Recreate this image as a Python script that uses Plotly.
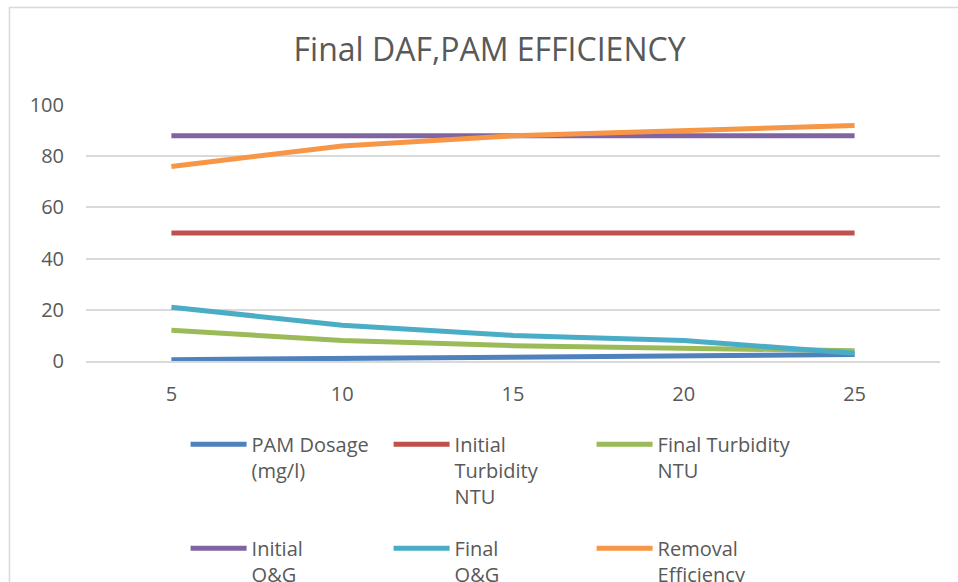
import plotly.graph_objects as go

# ---- data ----
categories = ["5", "10", "15", "20", "25"]
pam_dosage = [0.5, 1.0, 1.5, 2.0, 2.5]
initial_turbidity = [50, 50, 50, 50, 50]
final_turbidity = [12, 8, 6, 5, 4]
initial_og = [88, 88, 88, 88, 88]
final_og = [21, 14, 10, 8, 3]
removal_efficiency = [76, 84, 88, 90, 92]

series_names = [
    "PAM Dosage<br>(mg/l)",
    "Initial<br>Turbidity<br>NTU",
    "Final Turbidity<br>NTU",
    "Initial<br>O&G",
    "Final<br>O&G",
    "Removal<br>Efficiency",
]
series_values = [pam_dosage, initial_turbidity, final_turbidity,
                 initial_og, final_og, removal_efficiency]
series_colors = ["#4f81bd", "#c0504d", "#9bbb59", "#8064a2", "#4bacc6", "#f79646"]
legend_ids = ["legend", "legend", "legend", "legend2", "legend2", "legend2"]

FONT = "Open Sans"
TXT = "#595959"
GRID = "#d9d9d9"

fig = go.Figure()
for name, vals, col, lg in zip(series_names, series_values, series_colors, legend_ids):
    fig.add_trace(go.Scatter(
        x=categories, y=vals, name=name, mode="lines",
        line=dict(color=col, width=5), legend=lg,
    ))

legend_common = dict(
    orientation="h", xanchor="left", yanchor="top",
    font=dict(family=FONT, size=20, color=TXT),
    valign="top", itemwidth=56, entrywidth=132, bgcolor="rgba(0,0,0,0)",
    itemclick=False, itemdoubleclick=False,
)

fig.update_layout(
    width=958, height=582,
    margin=dict(l=86, r=18, t=105, b=221, autoexpand=False),
    paper_bgcolor="white", plot_bgcolor="white",
    title=dict(text="Final DAF,PAM EFFICIENCY", x=0.511, xanchor="center",
               y=0.915, yanchor="middle",
               font=dict(family=FONT, size=32, color=TXT)),
    font=dict(family=FONT, color=TXT),
    showlegend=True,
    legend=dict(x=0.1166, y=-0.249, **legend_common),
    legend2=dict(x=0.1166, y=-0.655, **legend_common),
    xaxis=dict(type="category", range=[-0.5, 4.5], showgrid=False,
               showline=True, linecolor=GRID, linewidth=1.5, ticks="",
               tickfont=dict(family=FONT, size=20, color=TXT),
               ticklabelstandoff=14, fixedrange=True),
    yaxis=dict(range=[0, 100], dtick=20, showgrid=True, gridcolor=GRID,
               gridwidth=1.5, zeroline=False, showline=False, ticks="",
               tickfont=dict(family=FONT, size=20, color=TXT),
               ticklabelstandoff=21, fixedrange=True),
    shapes=[dict(type="rect", xref="paper", yref="paper",
                 x0=-0.0896, x1=1.2, y0=-1.5, y1=1.381,
                 line=dict(color=GRID, width=1.5), fillcolor="rgba(0,0,0,0)",
                 layer="below")],
)

fig.write_html("out.html", config={"displayModeBar": False},
               post_script="document.body.style.margin='0';")
